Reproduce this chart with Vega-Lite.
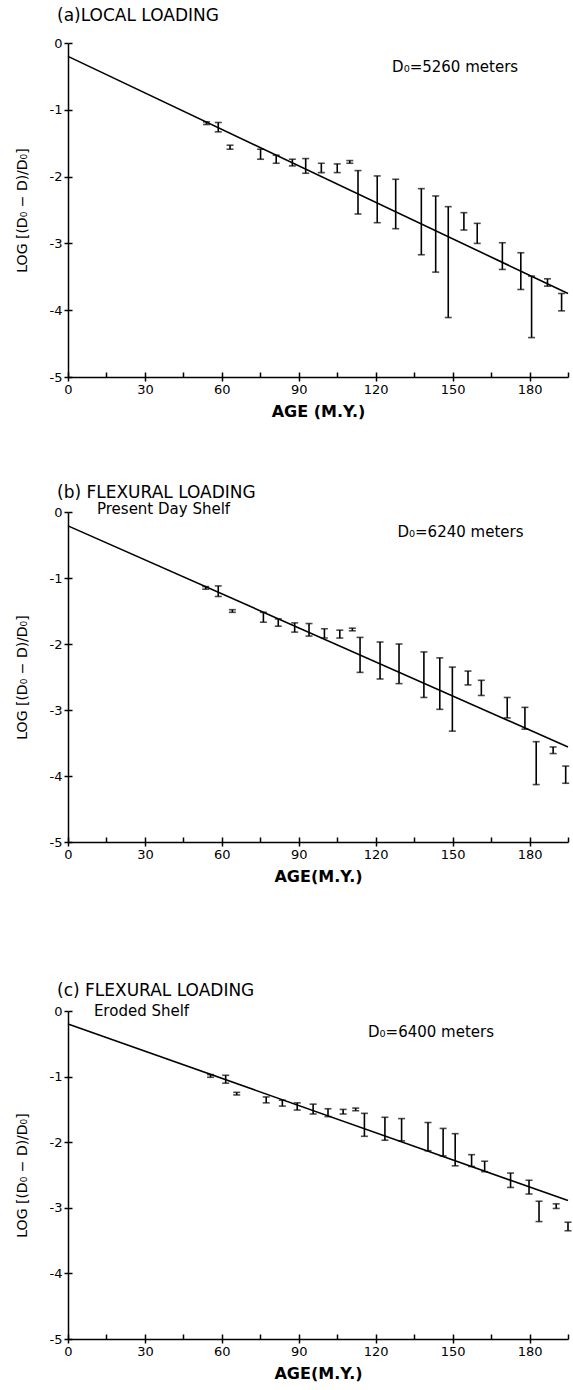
{
  "$schema": "https://vega.github.io/schema/vega-lite/v6.json",
  "background": "white",
  "padding": {"left": 15, "top": 7, "right": 0, "bottom": 5},
  "spacing": 65,
  "config": {
    "font": "DejaVu Sans",
    "view": {"stroke": null},
    "axis": {"domainColor": "black", "domainWidth": 1.5, "tickColor": "black", "tickWidth": 1.5, "labelColor": "black", "titleColor": "black", "grid": false, "labelFont": "DejaVu Sans", "labelFontSize": 13, "titleFont": "DejaVu Sans", "titleFontSize": 14, "titleFontWeight": "normal", "labelFlush": false, "labelOverlap": false},
    "title": {"font": "DejaVu Sans", "fontSize": 17, "fontWeight": "normal", "color": "black", "anchor": "start", "frame": "group"}
  },
  "datasets": {
    "a_pts": [
      {"age": 54, "lo": -1.22, "hi": -1.18},
      {"age": 58.6, "lo": -1.33, "hi": -1.19},
      {"age": 63.2, "lo": -1.59, "hi": -1.53},
      {"age": 75.1, "lo": -1.74, "hi": -1.59},
      {"age": 81.2, "lo": -1.80, "hi": -1.68},
      {"age": 87.5, "lo": -1.84, "hi": -1.74},
      {"age": 92.7, "lo": -1.95, "hi": -1.73},
      {"age": 98.8, "lo": -1.94, "hi": -1.80},
      {"age": 105, "lo": -1.94, "hi": -1.81},
      {"age": 109.9, "lo": -1.80, "hi": -1.76},
      {"age": 113.1, "lo": -2.56, "hi": -1.91},
      {"age": 120.6, "lo": -2.69, "hi": -1.99},
      {"age": 127.8, "lo": -2.78, "hi": -2.04},
      {"age": 137.8, "lo": -3.17, "hi": -2.18},
      {"age": 143.4, "lo": -3.43, "hi": -2.29},
      {"age": 148.3, "lo": -4.11, "hi": -2.45},
      {"age": 154.4, "lo": -2.80, "hi": -2.54},
      {"age": 159.6, "lo": -3.00, "hi": -2.70},
      {"age": 169.4, "lo": -3.39, "hi": -2.99},
      {"age": 176.6, "lo": -3.69, "hi": -3.14},
      {"age": 180.8, "lo": -4.41, "hi": -3.49},
      {"age": 187, "lo": -3.64, "hi": -3.53},
      {"age": 192.5, "lo": -4.01, "hi": -3.75}
    ],
    "b_pts": [
      {"age": 53.7, "lo": -1.17, "hi": -1.13},
      {"age": 58.6, "lo": -1.28, "hi": -1.12},
      {"age": 64.1, "lo": -1.52, "hi": -1.48},
      {"age": 76.2, "lo": -1.67, "hi": -1.52},
      {"age": 82, "lo": -1.73, "hi": -1.62},
      {"age": 88.4, "lo": -1.82, "hi": -1.68},
      {"age": 94, "lo": -1.88, "hi": -1.69},
      {"age": 100, "lo": -1.91, "hi": -1.77},
      {"age": 106, "lo": -1.91, "hi": -1.79},
      {"age": 110.9, "lo": -1.80, "hi": -1.76},
      {"age": 113.9, "lo": -2.43, "hi": -1.90},
      {"age": 121.7, "lo": -2.53, "hi": -1.97},
      {"age": 129.1, "lo": -2.60, "hi": -2.00},
      {"age": 138.8, "lo": -2.81, "hi": -2.12},
      {"age": 145, "lo": -2.99, "hi": -2.21},
      {"age": 149.9, "lo": -3.32, "hi": -2.35},
      {"age": 156, "lo": -2.62, "hi": -2.41},
      {"age": 161.2, "lo": -2.78, "hi": -2.55},
      {"age": 171.3, "lo": -3.12, "hi": -2.81},
      {"age": 178.2, "lo": -3.29, "hi": -2.96},
      {"age": 182.6, "lo": -4.13, "hi": -3.48},
      {"age": 189.2, "lo": -3.66, "hi": -3.56},
      {"age": 194.1, "lo": -4.11, "hi": -3.85}
    ],
    "c_pts": [
      {"age": 55.6, "lo": -1.01, "hi": -0.97},
      {"age": 61.5, "lo": -1.10, "hi": -0.98},
      {"age": 65.8, "lo": -1.28, "hi": -1.24},
      {"age": 77.3, "lo": -1.40, "hi": -1.31},
      {"age": 83.6, "lo": -1.45, "hi": -1.36},
      {"age": 89.4, "lo": -1.51, "hi": -1.40},
      {"age": 95.6, "lo": -1.57, "hi": -1.42},
      {"age": 101.4, "lo": -1.61, "hi": -1.49},
      {"age": 107.3, "lo": -1.57, "hi": -1.50},
      {"age": 112.2, "lo": -1.52, "hi": -1.48},
      {"age": 115.6, "lo": -1.91, "hi": -1.56},
      {"age": 123.6, "lo": -1.97, "hi": -1.62},
      {"age": 130.1, "lo": -1.98, "hi": -1.64},
      {"age": 140.4, "lo": -2.13, "hi": -1.70},
      {"age": 146.3, "lo": -2.21, "hi": -1.79},
      {"age": 151, "lo": -2.36, "hi": -1.87},
      {"age": 157.4, "lo": -2.37, "hi": -2.19},
      {"age": 162.5, "lo": -2.45, "hi": -2.29},
      {"age": 172.6, "lo": -2.69, "hi": -2.47},
      {"age": 179.8, "lo": -2.79, "hi": -2.58},
      {"age": 183.7, "lo": -3.21, "hi": -2.90},
      {"age": 190.4, "lo": -3.01, "hi": -2.94},
      {"age": 195, "lo": -3.35, "hi": -3.22}
    ],
    "a_fit": [{"age": 0, "logd": -0.2}, {"age": 195, "logd": -3.75}],
    "b_fit": [{"age": 0, "logd": -0.21}, {"age": 195, "logd": -3.56}],
    "c_fit": [{"age": 0, "logd": -0.2}, {"age": 195, "logd": -2.89}]
  },
  "vconcat": [
    {
      "width": 500, "height": 334,
      "title": {"text": "(a)LOCAL LOADING", "dx": -11, "offset": 12},
      "resolve": {"axis": {"x": "independent", "y": "independent"}},
      "layer": [
        {
          "data": {"name": "a_pts"},
          "mark": {"type": "errorbar", "color": "black", "thickness": 1.6, "ticks": {"size": 7, "thickness": 1.6, "color": "black"}},
          "encoding": {
            "x": {"field": "age", "type": "quantitative", "scale": {"domain": [0, 195], "nice": false, "zero": false}, "axis": {"values": [0, 30, 60, 90, 120, 150, 180], "tickSize": 4, "labelPadding": 2, "title": "AGE (M.Y.)", "titlePadding": 7, "titleFontWeight": "bold", "titleFontSize": 16}},
            "y": {"field": "lo", "type": "quantitative", "scale": {"domain": [-5, 0], "nice": false, "zero": false}, "axis": {"values": [0, -1, -2, -3, -4, -5], "tickSize": 4, "labelPadding": 2, "labelExpr": "datum.value == 0 ? '0' : '-' + abs(datum.value)", "title": "LOG [(D₀ − D)/D₀]", "titlePadding": 20}},
            "y2": {"field": "hi"}
          }
        },
        {
          "data": {"name": "a_fit"},
          "mark": {"type": "line", "color": "black", "strokeWidth": 1.6},
          "encoding": {
            "x": {"field": "age", "type": "quantitative", "axis": {"orient": "bottom", "offset": -5, "tickSize": 5, "values": [0, 15, 30, 45, 60, 75, 90, 105, 120, 135, 150, 165, 180, 195], "labels": false, "domain": false, "title": null}},
            "y": {"field": "logd", "type": "quantitative", "axis": {"orient": "left", "offset": -4, "tickSize": 4, "values": [0, -1, -2, -3, -4, -5], "labels": false, "domain": false, "title": null}}
          }
        },
        {
          "data": {"values": [{"note": "D₀=5260 meters"}]},
          "mark": {"type": "text", "align": "left", "baseline": "middle", "fontSize": 15, "color": "black"},
          "encoding": {"x": {"datum": 126.4, "axis": null}, "y": {"datum": -0.36, "axis": null}, "text": {"field": "note"}}
        }
      ]
    },
    {
      "width": 500, "height": 330,
      "title": {"text": "(b) FLEXURAL LOADING", "dx": -11, "offset": -0.5},
      "resolve": {"axis": {"x": "independent", "y": "independent"}},
      "layer": [
        {
          "data": {"name": "b_pts"},
          "mark": {"type": "errorbar", "color": "black", "thickness": 1.6, "ticks": {"size": 7, "thickness": 1.6, "color": "black"}},
          "encoding": {
            "x": {"field": "age", "type": "quantitative", "scale": {"domain": [0, 195], "nice": false, "zero": false}, "axis": {"values": [0, 30, 60, 90, 120, 150, 180], "tickSize": 4, "labelPadding": 2, "title": ["AGE(M.Y.)", " "], "titleLineHeight": 32.5, "titlePadding": 7, "titleFontWeight": "bold", "titleFontSize": 16}},
            "y": {"field": "lo", "type": "quantitative", "scale": {"domain": [-5, 0], "nice": false, "zero": false}, "axis": {"values": [0, -1, -2, -3, -4, -5], "tickSize": 4, "labelPadding": 2, "labelExpr": "datum.value == 0 ? '0' : '-' + abs(datum.value)", "title": "LOG [(D₀ − D)/D₀]", "titlePadding": 20}},
            "y2": {"field": "hi"}
          }
        },
        {
          "data": {"name": "b_fit"},
          "mark": {"type": "line", "color": "black", "strokeWidth": 1.6},
          "encoding": {
            "x": {"field": "age", "type": "quantitative", "axis": {"orient": "bottom", "offset": -5, "tickSize": 5, "values": [0, 15, 30, 45, 60, 75, 90, 105, 120, 135, 150, 165, 180, 195], "labels": false, "domain": false, "title": null}},
            "y": {"field": "logd", "type": "quantitative", "axis": {"orient": "left", "offset": -4, "tickSize": 4, "values": [0, -1, -2, -3, -4, -5], "labels": false, "domain": false, "title": null}}
          }
        },
        {
          "data": {"values": [{"note": "D₀=6240 meters"}]},
          "mark": {"type": "text", "align": "left", "baseline": "middle", "fontSize": 15, "color": "black"},
          "encoding": {"x": {"datum": 128.5, "axis": null}, "y": {"datum": -0.31, "axis": null}, "text": {"field": "note"}}
        },
        {
          "data": {"values": [{"note": "Present Day Shelf"}]},
          "mark": {"type": "text", "align": "left", "baseline": "middle", "fontSize": 15, "color": "black"},
          "encoding": {"x": {"datum": 11.3, "axis": null}, "y": {"datum": 0.05, "axis": null}, "text": {"field": "note"}}
        }
      ]
    },
    {
      "width": 500, "height": 328,
      "title": {"text": "(c) FLEXURAL LOADING", "dx": -11, "offset": 3.6},
      "resolve": {"axis": {"x": "independent", "y": "independent"}},
      "layer": [
        {
          "data": {"name": "c_pts"},
          "mark": {"type": "errorbar", "color": "black", "thickness": 1.6, "ticks": {"size": 7, "thickness": 1.6, "color": "black"}},
          "encoding": {
            "x": {"field": "age", "type": "quantitative", "scale": {"domain": [0, 195], "nice": false, "zero": false}, "axis": {"values": [0, 30, 60, 90, 120, 150, 180], "tickSize": 4, "labelPadding": 2, "title": "AGE(M.Y.)", "titlePadding": 7, "titleFontWeight": "bold", "titleFontSize": 16}},
            "y": {"field": "lo", "type": "quantitative", "scale": {"domain": [-5, 0], "nice": false, "zero": false}, "axis": {"values": [0, -1, -2, -3, -4, -5], "tickSize": 4, "labelPadding": 2, "labelExpr": "datum.value == 0 ? '0' : '-' + abs(datum.value)", "title": "LOG [(D₀ − D)/D₀]", "titlePadding": 20}},
            "y2": {"field": "hi"}
          }
        },
        {
          "data": {"name": "c_fit"},
          "mark": {"type": "line", "color": "black", "strokeWidth": 1.6},
          "encoding": {
            "x": {"field": "age", "type": "quantitative", "axis": {"orient": "bottom", "offset": -5, "tickSize": 5, "values": [0, 15, 30, 45, 60, 75, 90, 105, 120, 135, 150, 165, 180, 195], "labels": false, "domain": false, "title": null}},
            "y": {"field": "logd", "type": "quantitative", "axis": {"orient": "left", "offset": -4, "tickSize": 4, "values": [0, -1, -2, -3, -4, -5], "labels": false, "domain": false, "title": null}}
          }
        },
        {
          "data": {"values": [{"note": "D₀=6400 meters"}]},
          "mark": {"type": "text", "align": "left", "baseline": "middle", "fontSize": 15, "color": "black"},
          "encoding": {"x": {"datum": 117, "axis": null}, "y": {"datum": -0.32, "axis": null}, "text": {"field": "note"}}
        },
        {
          "data": {"values": [{"note": "Eroded Shelf"}]},
          "mark": {"type": "text", "align": "left", "baseline": "middle", "fontSize": 15, "color": "black"},
          "encoding": {"x": {"datum": 10.1, "axis": null}, "y": {"datum": 0.0, "axis": null}, "text": {"field": "note"}}
        }
      ]
    }
  ]
}
